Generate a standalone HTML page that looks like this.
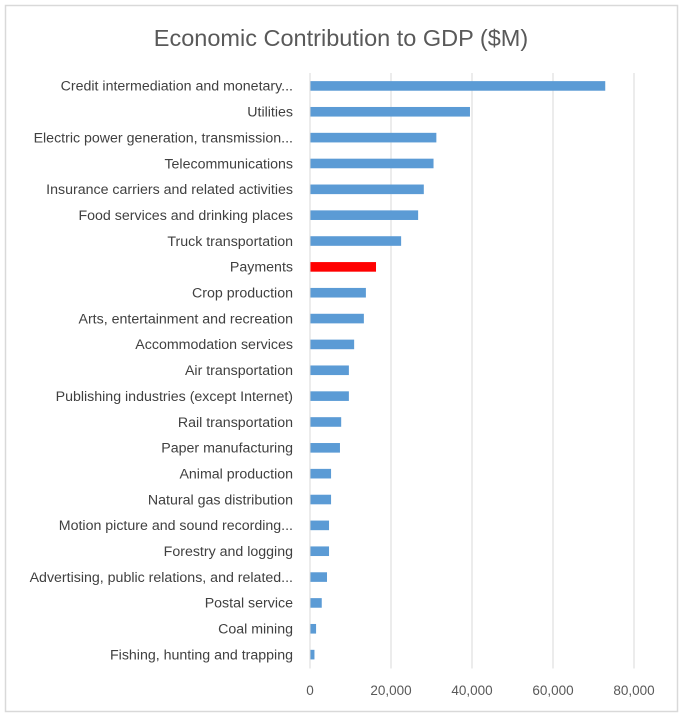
<!DOCTYPE html>
<html><head><meta charset="utf-8"><style>
html,body{margin:0;padding:0;background:#fff;}
svg{display:block;font-family:"Liberation Sans",sans-serif;}
</style></head><body>
<svg id="chart" width="690" height="725" viewBox="0 0 690 725">
<rect x="5.5" y="5.5" width="672" height="706" fill="#fff" stroke="#d9d9d9" stroke-width="1.5"/>
<text x="341" y="46" text-anchor="middle" font-size="23.5" fill="#595959">Economic Contribution to GDP ($M)</text>
<g id="grid"></g><g id="bars"></g><g id="labels"></g><g id="ticks"></g>
</svg>
<script>
const categories = ["Credit intermediation and monetary...","Utilities","Electric power generation, transmission...","Telecommunications","Insurance carriers and related activities","Food services and drinking places","Truck transportation","Payments","Crop production","Arts, entertainment and recreation","Accommodation services","Air transportation","Publishing industries (except Internet)","Rail transportation","Paper manufacturing","Animal production","Natural gas distribution","Motion picture and sound recording...","Forestry and logging","Advertising, public relations, and related...","Postal service","Coal mining","Fishing, hunting and trapping"];
const values = [72900,39500,31200,30500,28100,26700,22500,16300,13800,13300,10900,9600,9600,7700,7400,5200,5200,4700,4700,4200,2900,1500,1100];
const highlighted = ["Payments"];
const tickValues = [0,20000,40000,60000,80000];
const tickLabels = ["0","20,000","40,000","60,000","80,000"];

const NS="http://www.w3.org/2000/svg";
const x0=310, pxPer=81/20000, plotTop=73, band=25.85;
const xs=v=>x0+v*pxPer;
const yc=i=>plotTop+band*(i+0.5);
function mk(tag,attrs,parent){const e=document.createElementNS(NS,tag);for(const k in attrs)e.setAttribute(k,attrs[k]);document.getElementById(parent).appendChild(e);return e;}
const plotBottom=plotTop+band*categories.length;
tickValues.forEach((t,i)=>{
  const g=mk("line",{x1:xs(t),x2:xs(t),y1:plotTop,y2:plotBottom+1,stroke:"#d9d9d9","stroke-width":1},"grid");
  
  
  const tl=mk("text",{x:xs(t),y:695,"text-anchor":"middle","font-size":13.5,fill:"#595959"},"ticks");
  tl.textContent=tickLabels[i];
  
  
});
categories.forEach((c,i)=>{
  const b=mk("rect",{x:x0+0.5,y:yc(i)-4.8,width:Math.max(0,xs(values[i])-x0-0.5),height:9.6,fill:highlighted.includes(c)?"#ff0000":"#5b9bd5"},"bars");
  
  
  const l=mk("text",{x:293,y:yc(i)+4.8,"text-anchor":"end","font-size":14.2,fill:"#404040"},"labels");
  l.textContent=c;
  
  
});
</script>
</body></html>
